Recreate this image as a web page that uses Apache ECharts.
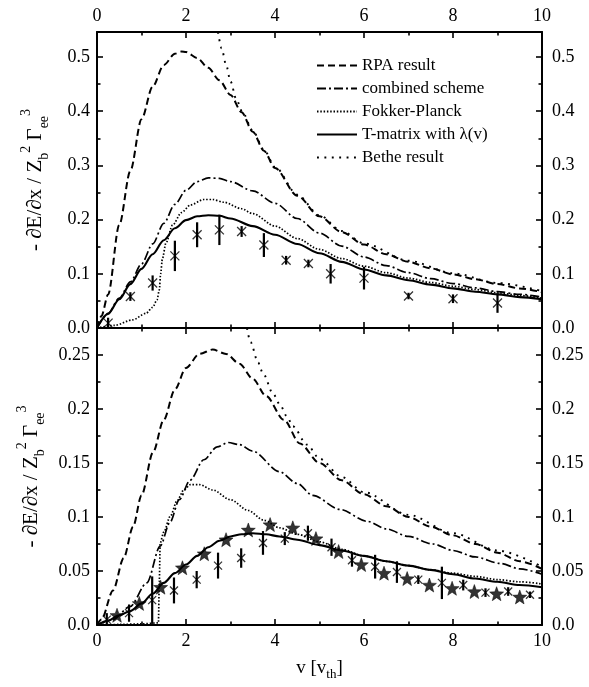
<!DOCTYPE html>
<html>
<head>
<meta charset="utf-8">
<script src="https://cdn.jsdelivr.net/npm/echarts@6/dist/echarts.min.js"></script>
<style>
html,body{margin:0;padding:0;background:#fff;}
#chart{width:589px;height:687px;}
</style>
</head>
<body>
<div id="chart"></div>
<script>
// ---------------- data: top panel ----------------
const xTicks = [0, 2, 4, 6, 8, 10];
const legendNames = ['RPA result', 'combined scheme', 'Fokker-Planck', 'T-matrix with λ(v)', 'Bethe result'];

const topRpaV = [0, 0.1, 0.25, 0.5, 0.75, 1.0, 1.25, 1.5, 1.75, 1.9, 2.0, 2.25, 2.5, 2.75, 3.0, 3.25, 3.5, 3.75, 4.0, 4.5, 5.0, 5.5, 6.0, 6.5, 7.0, 7.5, 8.0, 8.5, 9.0, 9.5, 10];
const topRpaY = [0, 0.022, 0.062, 0.19, 0.29, 0.385, 0.445, 0.485, 0.506, 0.51, 0.509, 0.498, 0.48, 0.457, 0.43, 0.398, 0.362, 0.327, 0.295, 0.244, 0.206, 0.177, 0.154, 0.136, 0.122, 0.11, 0.099, 0.09, 0.081, 0.073, 0.066];

const topBetheV = [2.72, 2.8, 2.9, 3.0, 3.13, 3.27, 3.5, 3.75, 4.0, 4.5, 5.0, 5.5, 6.0, 7.0, 8.0, 9.0, 10];
const topBetheY = [0.546, 0.516, 0.486, 0.455, 0.422, 0.398, 0.364, 0.329, 0.297, 0.246, 0.208, 0.179, 0.156, 0.124, 0.101, 0.083, 0.068];

const topCombV = [0, 0.25, 0.5, 0.75, 1.0, 1.25, 1.5, 1.75, 2.0, 2.25, 2.5, 2.75, 3.0, 3.5, 4.0, 4.5, 5.0, 5.5, 6.0, 6.5, 7.0, 7.5, 8.0, 8.5, 9.0, 9.5, 10];
const topCombY = [0, 0.027, 0.055, 0.085, 0.118, 0.155, 0.193, 0.228, 0.254, 0.27, 0.277, 0.276, 0.27, 0.253, 0.23, 0.202, 0.175, 0.151, 0.131, 0.115, 0.102, 0.091, 0.082, 0.074, 0.067, 0.062, 0.057];

const topFpV = [0, 0.4, 0.8, 1.1, 1.25, 1.35, 1.4, 1.43, 1.47, 1.55, 1.7, 1.9, 2.1, 2.4, 2.6, 2.85, 3.25, 3.5, 4.0, 4.5, 5.0, 5.5, 6.0, 6.5, 7.0, 7.5, 8.0, 8.5, 9.0, 9.5, 10];
const topFpY = [0, 0.005, 0.015, 0.027, 0.038, 0.052, 0.07, 0.1, 0.128, 0.157, 0.19, 0.213, 0.227, 0.237, 0.237, 0.232, 0.22, 0.211, 0.188, 0.165, 0.145, 0.128, 0.114, 0.102, 0.092, 0.084, 0.077, 0.071, 0.065, 0.06, 0.055];

const topTmV = [0, 0.25, 0.5, 0.75, 1.0, 1.25, 1.5, 1.75, 2.0, 2.25, 2.5, 2.75, 3.0, 3.5, 4.0, 4.5, 5.0, 5.5, 6.0, 6.5, 7.0, 7.5, 8.0, 8.5, 9.0, 9.5, 10];
const topTmY = [0, 0.026, 0.053, 0.081, 0.109, 0.136, 0.162, 0.184, 0.199, 0.206, 0.208, 0.207, 0.202, 0.188, 0.172, 0.155, 0.138, 0.122, 0.108, 0.097, 0.088, 0.08, 0.073, 0.067, 0.062, 0.057, 0.053];

const topPtV = [0.25, 0.75, 1.25, 1.75, 2.25, 2.75, 3.25, 3.75, 4.25, 4.75, 5.25, 6, 7, 8, 9];
const topPtY = [0.009, 0.058, 0.083, 0.133, 0.172, 0.181, 0.178, 0.153, 0.125, 0.119, 0.1, 0.092, 0.059, 0.054, 0.046];
const topPtErr = [0.01, 0.008, 0.014, 0.028, 0.023, 0.028, 0.01, 0.022, 0.008, 0.007, 0.018, 0.021, 0.006, 0.008, 0.018];

// ---------------- data: bottom panel ----------------
const botRpaV = [0, 0.1, 0.36, 0.6, 0.81, 1.0, 1.26, 1.5, 1.75, 2.0, 2.3, 2.6, 2.9, 3.2, 3.5, 3.8, 4.2, 4.56, 5.0, 5.5, 6.0, 6.5, 7.0, 7.5, 8.0, 8.5, 9.0, 9.5, 10];
const botRpaY = [0, 0.005, 0.032, 0.062, 0.091, 0.12, 0.16, 0.19, 0.218, 0.238, 0.251, 0.255, 0.251, 0.242, 0.228, 0.212, 0.19, 0.168, 0.15, 0.134, 0.121, 0.11, 0.1, 0.091, 0.083, 0.075, 0.067, 0.059, 0.052];

const botBetheV = [3.37, 3.45, 3.62, 3.73, 3.96, 4.11, 4.27, 4.4, 4.72, 5.0, 5.5, 6.0, 7.0, 8.0, 9.0, 10];
const botBetheY = [0.275, 0.262, 0.243, 0.233, 0.214, 0.204, 0.193, 0.184, 0.167, 0.154, 0.137, 0.123, 0.102, 0.085, 0.069, 0.054];

const botCombV = [0, 0.36, 0.74, 1.12, 1.42, 1.64, 1.85, 2.09, 2.4, 2.7, 2.95, 3.2, 3.5, 4.1, 4.5, 4.85, 5.46, 6.07, 6.5, 7.0, 7.55, 8.0, 8.5, 9.06, 9.5, 10];
const botCombY = [0, 0.005, 0.017, 0.039, 0.073, 0.095, 0.116, 0.134, 0.153, 0.165, 0.169, 0.167, 0.161, 0.142, 0.131, 0.12, 0.107, 0.096, 0.089, 0.082, 0.075, 0.069, 0.063, 0.057, 0.052, 0.047];

const botFpV = [0, 0.5, 1.0, 1.38, 1.4, 1.42, 1.5, 1.65, 1.8, 1.95, 2.1, 2.3, 2.6, 3.0, 3.4, 3.75, 4.1, 4.5, 5.0, 5.5, 6.0, 6.5, 7.0, 7.5, 8.0, 8.5, 9.0, 9.5, 10];
const botFpY = [0, 0.0005, 0.001, 0.002, 0.04, 0.076, 0.086, 0.101, 0.115, 0.125, 0.13, 0.13, 0.125, 0.116, 0.106, 0.097, 0.09, 0.084, 0.077, 0.07, 0.064, 0.059, 0.055, 0.051, 0.048, 0.045, 0.042, 0.04, 0.038];

const botTmV = [0, 0.25, 0.5, 0.75, 1.0, 1.25, 1.5, 1.75, 2.0, 2.25, 2.5, 2.75, 3.0, 3.25, 3.5, 3.8, 4.1, 4.5, 5.0, 5.5, 6.0, 6.5, 7.0, 7.5, 8.0, 8.5, 9.0, 9.5, 10];
const botTmY = [0, 0.004, 0.009, 0.013, 0.02, 0.029, 0.039, 0.048, 0.056, 0.064, 0.072, 0.078, 0.082, 0.084, 0.085, 0.084, 0.082, 0.079, 0.074, 0.069, 0.064, 0.059, 0.055, 0.051, 0.047, 0.043, 0.04, 0.037, 0.035];

const botStarV = [0.45, 0.95, 1.43, 1.92, 2.41, 2.9, 3.4, 3.89, 4.4, 4.92, 5.43, 5.94, 6.45, 6.97, 7.47, 7.98, 8.48, 8.98, 9.5];
const botStarY = [0.009, 0.02, 0.035, 0.053, 0.066, 0.079, 0.088, 0.093, 0.09, 0.08, 0.068, 0.056, 0.048, 0.043, 0.037, 0.034, 0.031, 0.029, 0.026];

const botCrossV = [0.22, 0.72, 1.24, 1.73, 2.24, 2.72, 3.24, 3.73, 4.22, 4.74, 5.27, 5.73, 6.25, 6.74, 7.22, 7.75, 8.23, 8.73, 9.24, 9.73];
const botCrossY = [0.005, 0.011, 0.023, 0.032, 0.042, 0.055, 0.062, 0.076, 0.08, 0.085, 0.072, 0.06, 0.054, 0.049, 0.042, 0.039, 0.037, 0.03, 0.031, 0.028];
const botCrossErr = [0.006, 0.008, 0.022, 0.012, 0.008, 0.012, 0.009, 0.011, 0.006, 0.007, 0.008, 0.006, 0.011, 0.01, 0.004, 0.015, 0.005, 0.004, 0.004, 0.003];

// ---------------- build ----------------
const FONT = '"Liberation Serif", "DejaVu Serif", serif';
const pairs = (xs, ys) => xs.map((x, i) => [x, ys[i]]);
const errs = (xs, ys, es) => xs.map((x, i) => [x, Math.max(0, ys[i] - es[i]), ys[i] + es[i]]);

function starPath() {
  const R = 10, r = 4.2;
  let d = '';
  for (let k = 0; k < 10; k++) {
    const a = -Math.PI / 2 + k * Math.PI / 5;
    const rr = k % 2 === 0 ? R : r;
    d += (k === 0 ? 'M' : 'L') + (rr * Math.cos(a)).toFixed(3) + ',' + (rr * Math.sin(a)).toFixed(3);
  }
  return 'path://' + d + 'Z';
}
const STAR = starPath();
const CROSS = 'path://M0,0L10,10M0,10L10,0';

const lineStyles = {
  'RPA result': { width: 2, type: [7, 4] },
  'combined scheme': { width: 1.7, type: [9, 3, 2, 3] },
  'Fokker-Planck': { width: 1.7, type: [1.5, 1.8] },
  'T-matrix with λ(v)': { width: 2.1, type: 'solid' },
  'Bethe result': { width: 1.9, type: [1.9, 5.5] }
};

function lineSeries(name, data, gi) {
  const ls = lineStyles[name];
  return {
    type: 'line', name: name, data: data, xAxisIndex: gi * 2, yAxisIndex: gi * 2,
    symbol: 'none', smooth: 0.3, smoothMonotone: 'x', clip: true,
    lineStyle: { color: '#000', width: ls.width, type: ls.type },
    itemStyle: { color: '#000', opacity: 0 }, z: 3
  };
}
function errSeries(data, gi) {
  return {
    type: 'custom', xAxisIndex: gi * 2, yAxisIndex: gi * 2, data: data,
    encode: { x: 0, y: [1, 2] }, z: 4, silent: true,
    renderItem: function (params, api) {
      const p1 = api.coord([api.value(0), api.value(1)]);
      const p2 = api.coord([api.value(0), api.value(2)]);
      return { type: 'line', shape: { x1: p1[0], y1: p1[1], x2: p2[0], y2: p2[1] },
        style: { stroke: '#000', lineWidth: 2.2 } };
    }
  };
}
function markerSeries(data, gi, sym, size, filled) {
  return {
    type: 'scatter', xAxisIndex: gi * 2, yAxisIndex: gi * 2, data: data,
    symbol: sym, symbolSize: size, silent: true, z: 5,
    itemStyle: filled ? { color: '#000', borderColor: '#000', borderWidth: 0.6 }
                      : { color: 'rgba(0,0,0,0)', borderColor: '#000', borderWidth: 1.3 }
  };
}

const tickCommon = {
  axisLine: { show: true, onZero: false, lineStyle: { color: '#000', width: 2 } },
  axisTick: { show: true, inside: true, length: 6, lineStyle: { color: '#000', width: 1.6 } },
  minorTick: { show: true, splitNumber: 2, length: 3.5, lineStyle: { color: '#000', width: 1.6 } },
  splitLine: { show: false }
};
function xAx(gi, pos, showLabels, extra) {
  return Object.assign({
    type: 'value', gridIndex: gi, position: pos, min: 0, max: 10, interval: 2,
    axisLabel: { show: showLabels, color: '#000', fontFamily: FONT, fontSize: 18, margin: 7,
      formatter: v => xTicks.indexOf(v) >= 0 ? String(v) : '' }
  }, tickCommon, extra || {});
}
const nameRich = {
  t: { fontFamily: FONT, fontSize: 21, color: '#000', lineHeight: 32 },
  sub: { fontFamily: FONT, fontSize: 14, color: '#000', verticalAlign: 'bottom', lineHeight: 16 },
  sup: { fontFamily: FONT, fontSize: 14, color: '#000', verticalAlign: 'top', lineHeight: 16 }
};
const yName = '{t|- ∂E/∂x / Z}{sub|b}{sup|2}{t| Γ}{sub|ee}{sup|3}';
function yAx(gi, pos, max, interval, fmt, withName) {
  const o = Object.assign({
    type: 'value', gridIndex: gi, position: pos, min: 0, max: max, interval: interval,
    axisLabel: { show: true, color: '#000', fontFamily: FONT, fontSize: 18, margin: pos === 'left' ? 7 : 10,
      showMaxLabel: false, formatter: fmt }
  }, tickCommon);
  if (withName) {
    o.name = yName; o.nameLocation = 'middle'; o.nameRotate = 90; o.nameGap = 46;
    o.nameTextStyle = { rich: nameRich, fontFamily: FONT, fontSize: 21, color: '#000' };
  }
  return o;
}
const fmtTop = v => (Math.abs(v * 10 - Math.round(v * 10)) < 1e-6) ? v.toFixed(1) : '';
const fmtBot = v => {
  if (Math.abs(v * 20 - Math.round(v * 20)) > 1e-6) return '';
  if (v === 0) return '0.0';
  return String(+v.toFixed(2));
};

const series = [
  lineSeries('RPA result', pairs(topRpaV, topRpaY), 0),
  lineSeries('combined scheme', pairs(topCombV, topCombY), 0),
  lineSeries('Fokker-Planck', pairs(topFpV, topFpY), 0),
  lineSeries('T-matrix with λ(v)', pairs(topTmV, topTmY), 0),
  lineSeries('Bethe result', pairs(topBetheV, topBetheY), 0),
  errSeries(errs(topPtV, topPtY, topPtErr), 0),
  markerSeries(pairs(topPtV, topPtY), 0, CROSS, 9, false),

  lineSeries('RPA result', pairs(botRpaV, botRpaY), 1),
  lineSeries('combined scheme', pairs(botCombV, botCombY), 1),
  lineSeries('Fokker-Planck', pairs(botFpV, botFpY), 1),
  lineSeries('T-matrix with λ(v)', pairs(botTmV, botTmY), 1),
  lineSeries('Bethe result', pairs(botBetheV, botBetheY), 1),
  errSeries(errs(botCrossV, botCrossY, botCrossErr), 1),
  markerSeries(pairs(botCrossV, botCrossY), 1, CROSS, 8, false),
  markerSeries(pairs(botStarV, botStarY), 1, STAR, 14, true)
];

const option = {
  animation: false,
  backgroundColor: '#fff',
  grid: [
    { left: 97, top: 32, width: 445, height: 296, containLabel: false },
    { left: 97, top: 328, width: 445, height: 297, containLabel: false }
  ],
  legend: {
    data: legendNames, orient: 'vertical', left: 311, top: 52,
    itemWidth: 40, itemHeight: 14, itemGap: 6, selectedMode: false,
    itemStyle: { opacity: 0 },
    textStyle: { fontFamily: FONT, fontSize: 17, color: '#000' }
  },
  xAxis: [
    xAx(0, 'bottom', false),
    xAx(0, 'top', true),
    xAx(1, 'bottom', true, {
      name: '{t|v [v}{sub|th}{t|]}', nameLocation: 'middle', nameGap: 30,
      nameTextStyle: { rich: {
        t: { fontFamily: FONT, fontSize: 19, color: '#000', lineHeight: 26 },
        sub: { fontFamily: FONT, fontSize: 13, color: '#000', verticalAlign: 'bottom', lineHeight: 14 }
      }, fontFamily: FONT, fontSize: 19, color: '#000' }
    }),
    xAx(1, 'top', false)
  ],
  yAxis: [
    yAx(0, 'left', 0.546, 0.1, fmtTop, true),
    yAx(0, 'right', 0.546, 0.1, fmtTop, false),
    yAx(1, 'left', 0.275, 0.05, fmtBot, true),
    yAx(1, 'right', 0.275, 0.05, fmtBot, false)
  ],
  series: series
};

const chart = echarts.init(document.getElementById('chart'), null, { renderer: 'canvas' });
chart.setOption(option);
</script>
</body>
</html>
